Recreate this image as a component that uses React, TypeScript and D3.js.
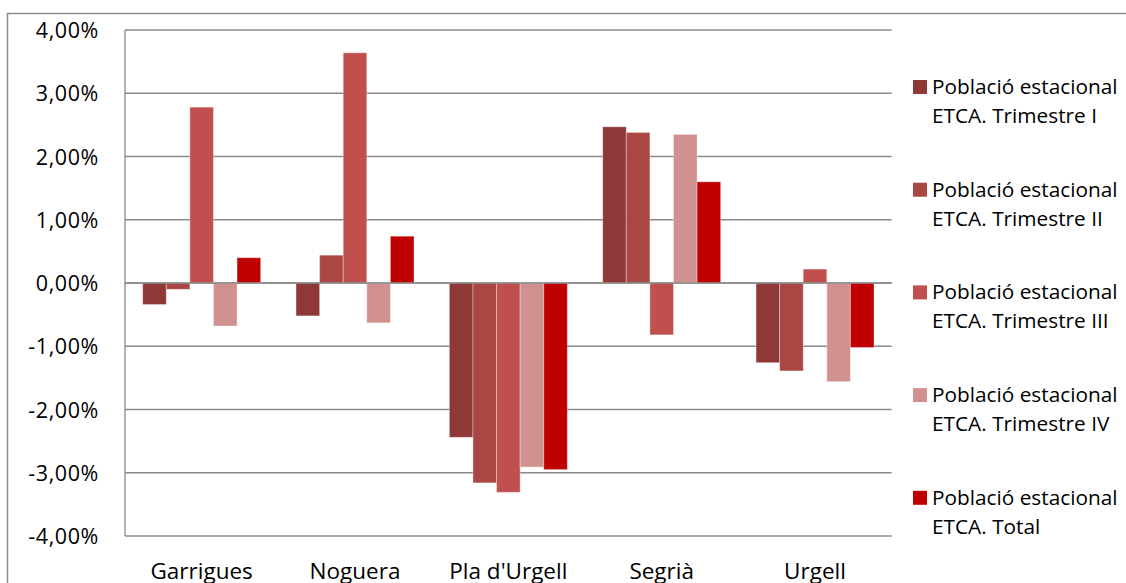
import React from "react";
import * as d3 from "d3";

const categories = ["Garrigues", "Noguera", "Pla d'Urgell", "Segrià", "Urgell"];
const seriesNames = [
  ["Població estacional", "ETCA. Trimestre I"],
  ["Població estacional", "ETCA. Trimestre II"],
  ["Població estacional", "ETCA. Trimestre III"],
  ["Població estacional", "ETCA. Trimestre IV"],
  ["Població estacional", "ETCA. Total"],
];
const trimestreI = [-0.34, -0.52, -2.44, 2.47, -1.26];
const trimestreII = [-0.1, 0.44, -3.16, 2.38, -1.39];
const trimestreIII = [2.78, 3.64, -3.31, -0.82, 0.22];
const trimestreIV = [-0.68, -0.63, -2.91, 2.35, -1.56];
const total = [0.4, 0.74, -2.95, 1.6, -1.02];
const seriesValues = [trimestreI, trimestreII, trimestreIII, trimestreIV, total];
const colors = ["#8E3937", "#AA4644", "#C0504D", "#D29191", "#C00000"];
const yTicks = [4, 3, 2, 1, 0, -1, -2, -3, -4];

const W = 1126;
const H = 583;
const plot = { left: 125, right: 891.7, top: 30, bottom: 536 };
const FONT = "'Open Sans', sans-serif";

export default function App() {
  const x0 = d3.scaleBand<string>().domain(categories).range([plot.left, plot.right]).paddingInner(0).paddingOuter(0);
  const bw = x0.bandwidth();
  const gap = 1.5;
  const barW = bw / (seriesValues.length + gap);
  const y = d3.scaleLinear().domain([-4, 4]).range([plot.bottom, plot.top]);
  const fmt = (v: number) => d3.format(".2f")(v).replace(".", ",").replace("−", "-") + "%";

  return (
    <svg width={W} height={H} style={{ position: "absolute", left: 0, top: 0, background: "#fff" }}>
      <rect x={7.5} y={13.5} width={W + 20} height={H + 20} fill="#fff" stroke="#8c8c8c" strokeWidth={1.5} />
      {yTicks.map((t) => (
        <line key={"g" + t} x1={plot.left} x2={plot.right} y1={y(t)} y2={y(t)} stroke="#8a8a8a" strokeWidth={1.3} />
      ))}
      <line x1={plot.left} x2={plot.left} y1={plot.top} y2={plot.bottom} stroke="#8a8a8a" strokeWidth={1.3} />
      {yTicks.map((t) => (
        <text key={"t" + t} x={99} y={y(t) + 8} textAnchor="end" fontFamily={FONT} fontSize={21.5} letterSpacing={0.6} fill="#000">
          {fmt(t)}
        </text>
      ))}
      {seriesValues.map((vals, si) =>
        vals.map((v, ci) => {
          const bx = (x0(categories[ci]) as number) + barW * (gap / 2) + barW * si;
          const y1 = y(Math.max(0, v));
          const y2 = y(Math.min(0, v));
          return (
            <rect
              key={si + "-" + ci}
              x={bx}
              y={y1}
              width={barW}
              height={y2 - y1}
              fill={colors[si]}
              stroke="rgba(255,255,255,0.35)"
              strokeWidth={1}
            />
          );
        })
      )}
      <line x1={plot.left} x2={plot.right} y1={y(0)} y2={y(0)} stroke="#8a8a8a" strokeWidth={1.3} />
      {categories.map((c) => (
        <text key={c} x={(x0(c) as number) + bw / 2} y={579} textAnchor="middle" fontFamily={FONT} fontSize={22.5} fill="#000">
          {c}
        </text>
      ))}
      {seriesNames.map((lines, i) => {
        const base = 94 + i * 102.7;
        return (
          <g key={"l" + i}>
            <rect x={913} y={base - 14} width={14} height={14} fill={colors[i]} />
            <text x={932} y={base} fontFamily={FONT} fontSize={20.8} fill="#000">
              {lines[0]}
            </text>
            <text x={932} y={base + 29} fontFamily={FONT} fontSize={20.8} fill="#000">
              {lines[1]}
            </text>
          </g>
        );
      })}
    </svg>
  );
}
